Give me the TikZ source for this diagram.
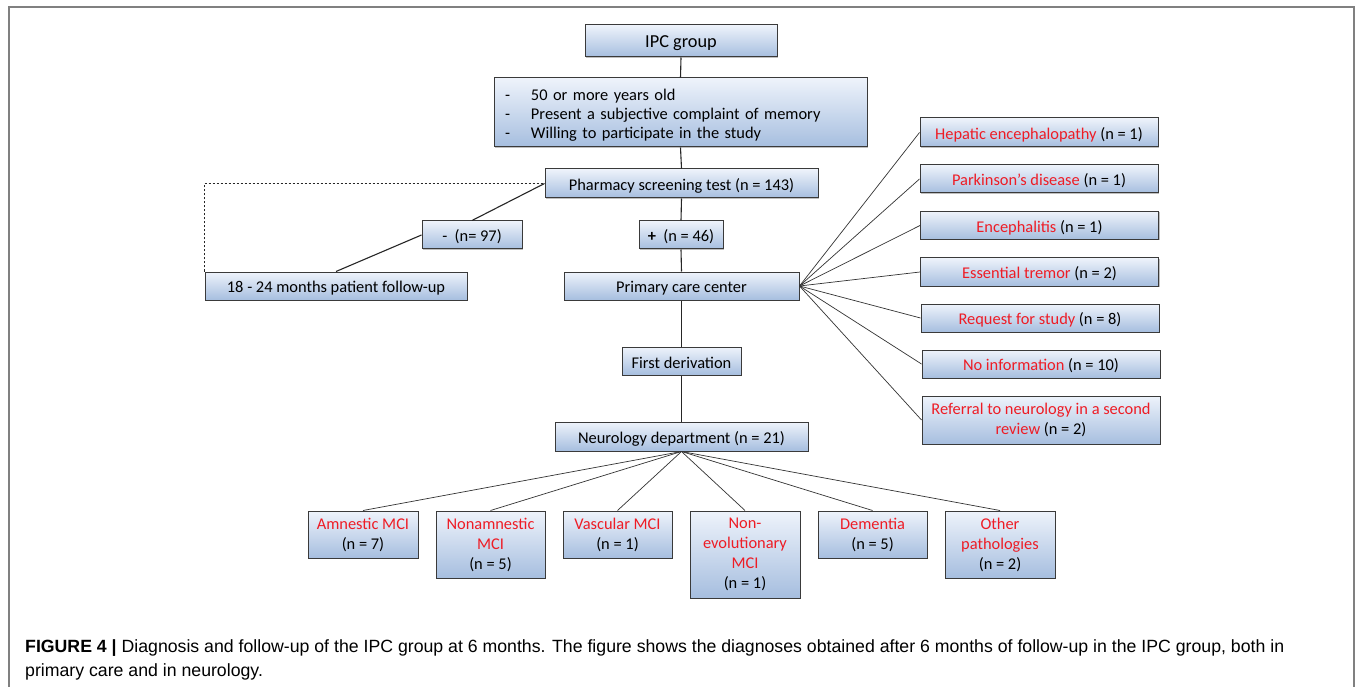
\documentclass[tikz,border=0pt]{standalone}
\usepackage{fontspec}
\setmainfont{Carlito}
\newfontfamily\capfont{Liberation Sans}
\usetikzlibrary{shadows}
\definecolor{boxtop}{HTML}{EEF3FB}
\definecolor{boxbot}{HTML}{A6BEDF}
\definecolor{boxline}{HTML}{3A3A3A}
\definecolor{dxred}{HTML}{EE1C25}
\definecolor{framegray}{HTML}{808080}
\newcommand{\rd}[1]{\textcolor{dxred}{#1}}
\tikzset{
  box/.style={draw=boxline, line width=1pt, top color=boxtop, bottom color=boxbot,
    inner sep=0pt, align=center, font=\fontsize{16.4}{20}\selectfont,
    execute at begin node={\rule{0pt}{16pt}},
    drop shadow={shadow xshift=1pt, shadow yshift=-1pt, fill=black, opacity=0.25}},
  conn/.style={draw=black!85, line width=1.1pt},
  fan/.style={draw=black!80, line width=0.7pt},
}
\begin{document}
\begin{tikzpicture}[x=1pt, y=-1pt]
\useasboundingbox (0,0) rectangle (1355,687);
\fill[white] (0,0) rectangle (1355,687);
\draw[framegray, line width=1.3pt] (9,687) -- (9,7) -- (1354,7) -- (1354,687);

% main column
\node[box, minimum width=192pt, minimum height=32pt, font=\fontsize{18.3}{20}\selectfont] (ipc) at (681,41) {IPC group};
\node[box, minimum width=373pt, minimum height=69pt, text width=351pt, align=left, font=\fontsize{16.4}{19}\selectfont] (crit) at (680.5,112.5)
  {\makebox[26pt][l]{-}50 or more years old\\
   \makebox[26pt][l]{-}Present a subjective complaint of memory\\
   \makebox[26pt][l]{-}Willing to participate in the study};
\node[box, minimum width=273pt, minimum height=29pt] (pharm) at (681.5,183.5) {Pharmacy screening test (n = 143)};
\node[box, minimum width=100pt, minimum height=28pt] (minus) at (472,235) {-\ \ (n= 97)};
\node[box, minimum width=84pt, minimum height=28pt] (plus) at (681,235) {\textbf{+}\ \ (n = 46)};
\node[box, minimum width=262pt, minimum height=28pt] (follow) at (336,286) {18 - 24 months patient follow-up};
\node[box, minimum width=235pt, minimum height=28pt] (pcc) at (681.5,286) {Primary care center};
\node[box, minimum width=119pt, minimum height=28pt] (first) at (681.5,361) {First derivation};
\node[box, minimum width=253pt, minimum height=29pt] (neuro) at (681.5,436.5) {Neurology department (n = 21)};

% right column
\node[box, minimum width=238pt, minimum height=29pt] (hep) at (1039,132.5) {\rd{Hepatic encephalopathy} (n = 1)};
\node[box, minimum width=238pt, minimum height=28pt] (park) at (1039,179) {\rd{Parkinson’s disease} (n = 1)};
\node[box, minimum width=238pt, minimum height=28pt] (enc) at (1039.5,225.5) {\rd{Encephalitis} (n = 1)};
\node[box, minimum width=238pt, minimum height=28pt] (ess) at (1039.5,272) {\rd{Essential tremor} (n = 2)};
\node[box, minimum width=238pt, minimum height=28pt] (req) at (1040,318) {\rd{Request for study} (n = 8)};
\node[box, minimum width=238pt, minimum height=28pt] (noinfo) at (1041,364) {\rd{No information} (n = 10)};
\node[box, minimum width=238pt, minimum height=48pt] (ref) at (1041,420) {\rd{Referral to neurology in a second}\\\rd{review} (n = 2)};

% bottom row
\node[box, minimum width=110pt, minimum height=47pt] (amn) at (363,534.5) {\rd{Amnestic MCI}\\(n = 7)};
\node[box, minimum width=109pt, minimum height=67pt] (nonamn) at (490.5,544.5) {\rd{Nonamnestic}\\\rd{MCI}\\(n = 5)};
\node[box, minimum width=109pt, minimum height=47pt] (vasc) at (617.5,534.5) {\rd{Vascular MCI}\\(n = 1)};
\node[box, minimum width=110pt, minimum height=87pt] (nonevo) at (745,554.5) {\rd{Non-}\\\rd{evolutionary}\\\rd{MCI}\\(n = 1)};
\node[box, minimum width=109pt, minimum height=47pt] (dem) at (872.5,534.5) {\rd{Dementia}\\(n = 5)};
\node[box, minimum width=110pt, minimum height=67pt] (other) at (1000,544.5) {\rd{Other}\\\rd{pathologies}\\(n = 2)};

% connectors
\draw[conn] (ipc.south) -- (crit.north);
\draw[conn] (crit.south) -- (pharm.north);
\draw[conn] (pharm.south) -- (plus.north);
\draw[conn] (plus.south) -- (pcc.north);
\draw[conn] (pcc.south) -- (first.north);
\draw[conn] (first.south) -- (neuro.north);
\draw[conn] (pharm.west) -- (minus.north);
\draw[conn] (minus.west) -- (follow.north);
\draw[draw=black!85, line width=1.1pt, dash pattern=on 2.5pt off 1.5pt] (follow.north west) |- (pharm.west);
\foreach \r in {hep,park,enc,ess,req,noinfo,ref}
  \draw[fan] (pcc.east) -- (\r.west);
\foreach \b in {amn,nonamn,vasc,nonevo,dem,other}
  \draw[fan] (neuro.south) -- (\b.north);

% caption
\node[anchor=base west, inner sep=0pt, font=\capfont\fontsize{17.7}{20}\selectfont] (cap1) at (25,652)
  {\textbf{FIGURE 4 |} Diagnosis and follow-up of the IPC group at 6 months. The figure shows the diagnoses obtained after 6 months of follow-up in the IPC group, both in};
\node[anchor=base west, inner sep=0pt, font=\capfont\fontsize{17.7}{20}\selectfont] (cap2) at (25,676)
  {primary care and in neurology.};
\end{tikzpicture}
\end{document}
